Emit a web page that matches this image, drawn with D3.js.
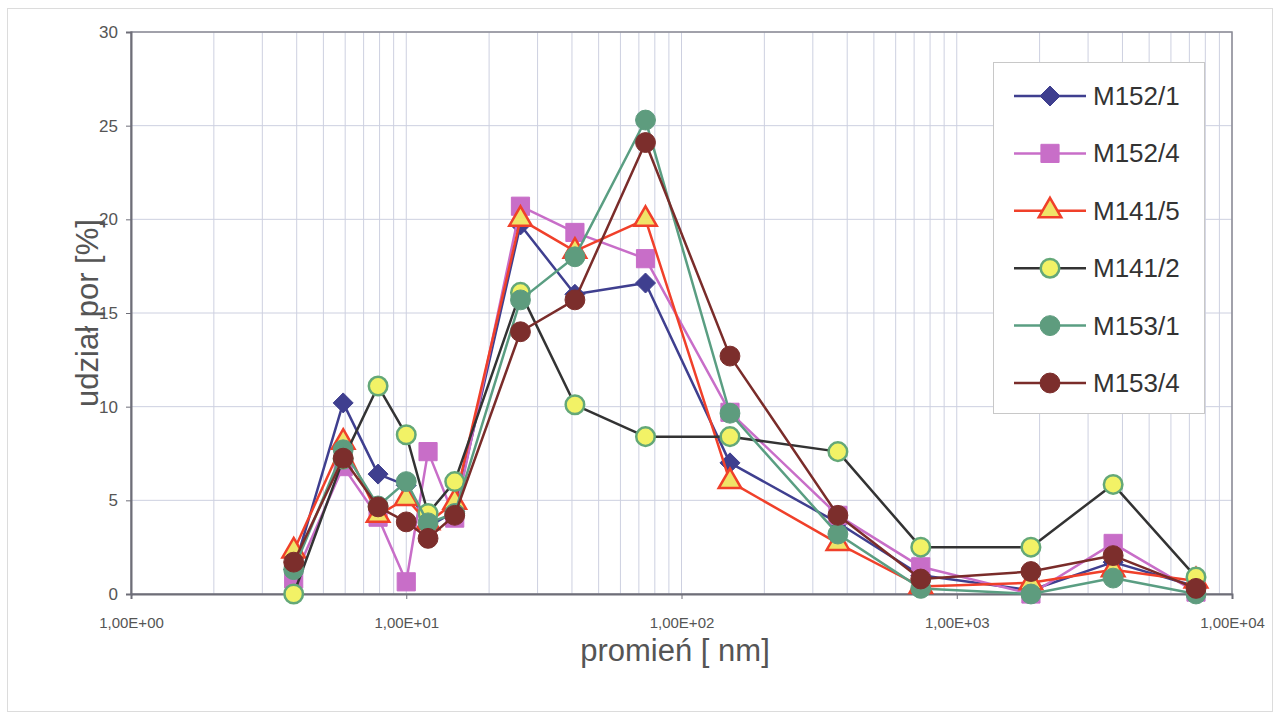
<!DOCTYPE html>
<html>
<head>
<meta charset="utf-8">
<script src="https://cdn.jsdelivr.net/npm/d3@7"></script>
<style>
  html, body { margin: 0; padding: 0; background: #ffffff; }
  svg { display: block; font-family: "Liberation Sans", Arial, sans-serif; }
</style>
</head>
<body>
<svg id="chart" width="1279" height="720"></svg>
<script>
// Pore radius classes [nm]
const radius = [3.9, 5.9, 7.9, 10, 12, 15, 26, 41, 74, 150, 370, 740, 1860, 3700, 7400];

// Pore share [%] per sample
const m152_1 = [1.3, 10.2, 6.4, 5.8, 3.6, 4.4, 19.7, 16.0, 16.6, 7.0, 3.8, 1.0, 0.2, 1.7, 0.4];
const m152_4 = [0.8, 6.8, 4.1, 0.65, 7.6, 4.05, 20.7, 19.3, 17.9, 9.7, 4.2, 1.45, 0.0, 2.7, 0.1];
const m141_5 = [2.3, 8.1, 4.2, 5.1, 3.8, 4.9, 20.0, 18.3, 20.0, 6.0, 2.7, 0.4, 0.6, 1.3, 0.7];
const m141_2 = [0.0, 7.2, 11.1, 8.5, 4.3, 6.0, 16.1, 10.1, 8.4, 8.4, 7.6, 2.5, 2.5, 5.85, 0.9];
const m153_1 = [1.3, 7.7, 4.7, 6.0, 3.8, 4.3, 15.7, 18.0, 25.3, 9.65, 3.2, 0.3, 0.0, 0.85, 0.0];
const m153_4 = [1.7, 7.25, 4.65, 3.85, 2.97, 4.2, 14.0, 15.7, 24.1, 12.7, 4.2, 0.8, 1.2, 2.05, 0.3];

const seriesNames = ["M152/1", "M152/4", "M141/5", "M141/2", "M153/1", "M153/4"];
const seriesValues = [m152_1, m152_4, m141_5, m141_2, m153_1, m153_4];

// Axis ticks
const xTicks = [1, 10, 100, 1000, 10000];
const xTickLabels = ["1,00E+00", "1,00E+01", "1,00E+02", "1,00E+03", "1,00E+04"];
const yTicks = [0, 5, 10, 15, 20, 25, 30];

// Square diamond marker (equal width and height)
const symbolRhomb = {
  draw(ctx, size) {
    const r = Math.sqrt(size / 2);
    ctx.moveTo(0, -r); ctx.lineTo(r, 0); ctx.lineTo(0, r); ctx.lineTo(-r, 0); ctx.closePath();
  }
};

// Styling per series: line colour, marker shape, fill, stroke
const styles = [
  { line: "#3f3f8f", shape: symbolRhomb, fill: "#3f3f8f", stroke: "#3f3f8f", size: 200, sw: 1 },
  { line: "#c86ec8", shape: d3.symbolSquare, fill: "#c86ec8", stroke: "#c86ec8", size: 330, sw: 1 },
  { line: "#f0402a", shape: d3.symbolTriangle, fill: "#f0e468", stroke: "#f0402a", size: 220, sw: 2.5 },
  { line: "#333333", shape: d3.symbolCircle, fill: "#f2f266", stroke: "#64a878", size: 270, sw: 2.5 },
  { line: "#5a9e82", shape: d3.symbolCircle, fill: "#5e9c7e", stroke: "#5e9c7e", size: 310, sw: 1 },
  { line: "#7a2c2a", shape: d3.symbolCircle, fill: "#7c2e2c", stroke: "#7c2e2c", size: 310, sw: 1 }
];

const svg = d3.select("#chart");
const W = 1279, H = 720;
const plot = { left: 131, right: 1232, top: 32, bottom: 594 };

// Outer frame
svg.append("rect").attr("x", 7.5).attr("y", 8.5).attr("width", W - 14).attr("height", H - 17)
  .attr("fill", "#ffffff").attr("stroke", "#dcdcdc").attr("stroke-width", 1);

const x = d3.scaleLog().domain([1, 10000]).range([plot.left, plot.right]);
const y = d3.scaleLinear().domain([0, 30]).range([plot.bottom, plot.top]);

// Vertical grid lines at every log minor step
const minor = [];
for (let e = 0; e < 4; e++) for (let k = 2; k <= 10; k++) minor.push(k * Math.pow(10, e));
svg.append("g").selectAll("line").data(minor).join("line")
  .attr("x1", d => x(d)).attr("x2", d => x(d))
  .attr("y1", plot.top).attr("y2", plot.bottom)
  .attr("stroke", "#cdd0e0").attr("stroke-width", 1);

// Horizontal grid lines
svg.append("g").selectAll("line").data(yTicks.slice(1)).join("line")
  .attr("x1", plot.left).attr("x2", plot.right)
  .attr("y1", d => y(d)).attr("y2", d => y(d))
  .attr("stroke", "#cdd0e0").attr("stroke-width", 1);

// Plot frame
svg.append("rect").attr("x", plot.left).attr("y", plot.top)
  .attr("width", plot.right - plot.left).attr("height", plot.bottom - plot.top)
  .attr("fill", "none").attr("stroke", "#8a8a94").attr("stroke-width", 1.5);

// Y axis
const yAxis = d3.axisLeft(y).tickValues(yTicks).tickSize(5).tickPadding(8);
const gy = svg.append("g").attr("transform", `translate(${plot.left},0)`).call(yAxis);
gy.select(".domain").attr("stroke", "#6e6e78").attr("stroke-width", 2);
gy.selectAll(".tick line").attr("stroke", "#6e6e78");
gy.selectAll(".tick text").attr("font-size", 17).attr("fill", "#555555")
  .attr("font-family", "Liberation Sans, Arial, sans-serif");

// X axis
const xAxis = d3.axisBottom(x).tickValues(xTicks)
  .tickFormat((d, i) => xTickLabels[i]).tickSize(5).tickPadding(18);
const gx = svg.append("g").attr("transform", `translate(0,${plot.bottom})`).call(xAxis);
gx.select(".domain").attr("stroke", "#6e6e78").attr("stroke-width", 2);
gx.selectAll(".tick line").attr("stroke", "#6e6e78");
gx.selectAll(".tick text").attr("font-size", 15).attr("fill", "#555555")
  .attr("font-family", "Liberation Sans, Arial, sans-serif");

// Axis titles
svg.append("text").attr("x", 675).attr("y", 661)
  .attr("text-anchor", "middle").attr("font-size", 31).attr("fill", "#555555")
  .text("promień [ nm]");
svg.append("text")
  .attr("transform", `translate(98,${(plot.top + plot.bottom) / 2}) rotate(-90)`)
  .attr("text-anchor", "middle").attr("font-size", 31).attr("fill", "#555555")
  .text("udział por [%]");

// Series lines and markers
const line = d3.line().x(d => x(d[0])).y(d => y(d[1]));
seriesValues.forEach((vals, si) => {
  const st = styles[si];
  const pts = radius.map((r, i) => [r, vals[i]]);
  const g = svg.append("g");
  g.append("path").attr("d", line(pts)).attr("fill", "none")
    .attr("stroke", st.line).attr("stroke-width", 2.5).attr("stroke-linejoin", "round");
  g.selectAll("path.m").data(pts).join("path").attr("class", "m")
    .attr("transform", d => `translate(${x(d[0])},${y(d[1])})`)
    .attr("d", d3.symbol().type(st.shape).size(st.size))
    .attr("fill", st.fill).attr("stroke", st.stroke).attr("stroke-width", st.sw);
});

// Legend
const lg = svg.append("g");
lg.append("rect").attr("x", 993.5).attr("y", 62.5).attr("width", 211).attr("height", 351)
  .attr("fill", "#ffffff").attr("stroke", "#c8c8c8").attr("stroke-width", 1);
seriesNames.forEach((name, i) => {
  const st = styles[i];
  const cy = 96 + i * 57.4;
  lg.append("line").attr("x1", 1014).attr("x2", 1086).attr("y1", cy).attr("y2", cy)
    .attr("stroke", st.line).attr("stroke-width", 2.5);
  lg.append("path").attr("transform", `translate(1050,${cy})`)
    .attr("d", d3.symbol().type(st.shape).size(st.size))
    .attr("fill", st.fill).attr("stroke", st.stroke).attr("stroke-width", st.sw);
  lg.append("text").attr("x", 1093).attr("y", cy + 9).attr("font-size", 26)
    .attr("fill", "#333333").text(name);
});
</script>
</body>
</html>
